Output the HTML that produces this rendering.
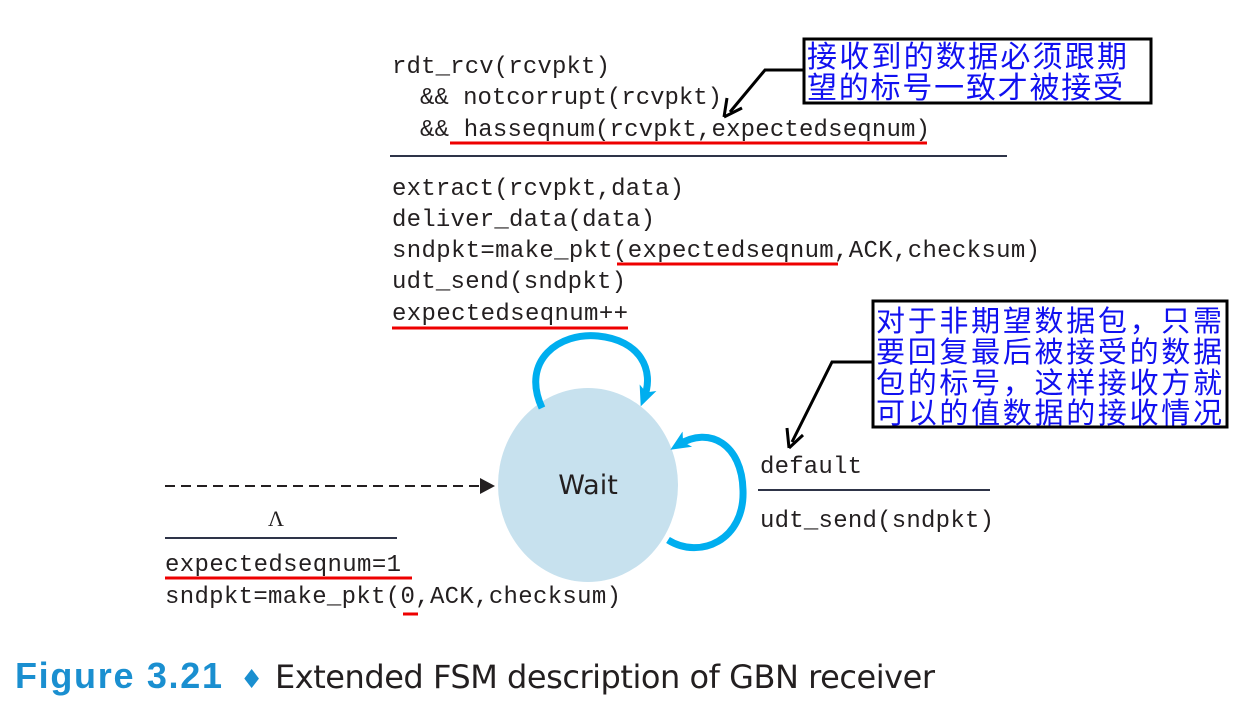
<!DOCTYPE html>
<html><head><meta charset="utf-8"><style>
html,body{margin:0;padding:0;background:#fff;}
svg{display:block;}
.m{font-family:"Liberation Mono",monospace;font-size:24px;fill:#231f20;}
.c{font-family:"Liberation Sans","Noto Sans CJK SC",sans-serif;fill:#1010f0;}
</style></head><body>
<svg width="1248" height="707" viewBox="0 0 1248 707" xmlns="http://www.w3.org/2000/svg">
<defs>
<marker id="bl" markerWidth="22" markerHeight="22" refX="11" refY="11" orient="auto" markerUnits="userSpaceOnUse"><path d="M0,2 L20,11 L0,20 L5,11 z" fill="#00aeef"/></marker>
</defs>
<text class="m" x="392" y="73" textLength="218">rdt_rcv(rcvpkt)</text>
<text class="m" x="420" y="104" textLength="302">&amp;&amp; notcorrupt(rcvpkt)</text>
<text class="m" x="420" y="136" textLength="510">&amp;&amp; hasseqnum(rcvpkt,expectedseqnum)</text>
<line x1="450" y1="143" x2="927" y2="143" stroke="#e00" stroke-width="3"/>
<line x1="390" y1="156" x2="1007" y2="156" stroke="#2e3448" stroke-width="2"/>
<text class="m" x="392" y="195" textLength="292">extract(rcvpkt,data)</text>
<text class="m" x="392" y="226" textLength="263">deliver_data(data)</text>
<text class="m" x="392" y="257" textLength="648">sndpkt=make_pkt(expectedseqnum,ACK,checksum)</text>
<line x1="617" y1="264" x2="838" y2="264" stroke="#e00" stroke-width="3"/>
<text class="m" x="392" y="288" textLength="234">udt_send(sndpkt)</text>
<text class="m" x="392" y="320" textLength="236">expectedseqnum++</text>
<line x1="392" y1="328" x2="628" y2="328" stroke="#e00" stroke-width="3"/>

<ellipse cx="588" cy="485" rx="90" ry="97" fill="#c7e1ee"/>
<text x="588" y="494" text-anchor="middle" font-family="'DejaVu Sans','Liberation Sans',sans-serif" font-size="27" fill="#231f20">Wait</text>
<path d="M542,408 C520,360 560,332 598,336 C640,340 655,370 644,398" fill="none" stroke="#00aeef" stroke-width="7" marker-end="url(#bl)"/>
<path d="M668,540 C700,560 745,540 743,490 C742,445 710,425 678,445" fill="none" stroke="#00aeef" stroke-width="7" marker-end="url(#bl)"/>

<line x1="165" y1="486" x2="484" y2="486" stroke="#231f20" stroke-width="2" stroke-dasharray="10,6"/>
<path d="M480,478 L495,486 L480,494 z" fill="#231f20"/>
<text x="276" y="526" font-family="'Liberation Serif',serif" font-size="22" fill="#231f20" text-anchor="middle">Λ</text>
<line x1="165" y1="538" x2="397" y2="538" stroke="#2e3448" stroke-width="2"/>
<text class="m" x="165" y="571" textLength="236">expectedseqnum=1</text>
<line x1="165" y1="578" x2="412" y2="578" stroke="#e00" stroke-width="3"/>
<text class="m" x="165" y="603" textLength="456">sndpkt=make_pkt(0,ACK,checksum)</text>
<line x1="403" y1="614" x2="418" y2="614" stroke="#e00" stroke-width="3"/>

<text class="m" x="760" y="473" textLength="102">default</text>
<line x1="758" y1="490" x2="990" y2="490" stroke="#2e3448" stroke-width="2"/>
<text class="m" x="760" y="527" textLength="234">udt_send(sndpkt)</text>

<rect x="804" y="39" width="347" height="64" fill="#fff" stroke="#000" stroke-width="3"/>
<text class="c" x="807" y="67" font-size="30" textLength="320">接收到的数据必须跟期</text>
<text class="c" x="807" y="98" font-size="30" textLength="316">望的标号一致才被接受</text>
<polyline points="804,70 765,70 730,112" fill="none" stroke="#000" stroke-width="3"/>
<path d="M724,117 L727,98 M724,117 L742,108" stroke="#000" stroke-width="3" fill="none"/>

<rect x="873" y="301" width="354" height="126" fill="#fff" stroke="#000" stroke-width="3"/>
<text class="c" x="876" y="331" font-size="29" textLength="346">对于非期望数据包，只需</text>
<text class="c" x="876" y="362" font-size="29" textLength="346">要回复最后被接受的数据</text>
<text class="c" x="876" y="393" font-size="29" textLength="346">包的标号，这样接收方就</text>
<text class="c" x="876" y="423" font-size="29" textLength="346">可以的值数据的接收情况</text>
<polyline points="873,362 832,362 792,442" fill="none" stroke="#000" stroke-width="3"/>
<path d="M789,448 L787,428 M789,448 L803,435" stroke="#000" stroke-width="3" fill="none"/>

<text x="15" y="688" font-family="'Liberation Sans',sans-serif" font-weight="bold" font-size="36" fill="#1a8fd0" textLength="207">Figure 3.21</text>
<text x="240" y="688" font-family="'DejaVu Sans',sans-serif" font-size="26" fill="#1a8fd0">♦</text>
<text x="275" y="688" font-family="'DejaVu Sans','Liberation Sans',sans-serif" font-size="32" fill="#231f20" textLength="660">Extended FSM description of GBN receiver</text>
</svg>
</body></html>
